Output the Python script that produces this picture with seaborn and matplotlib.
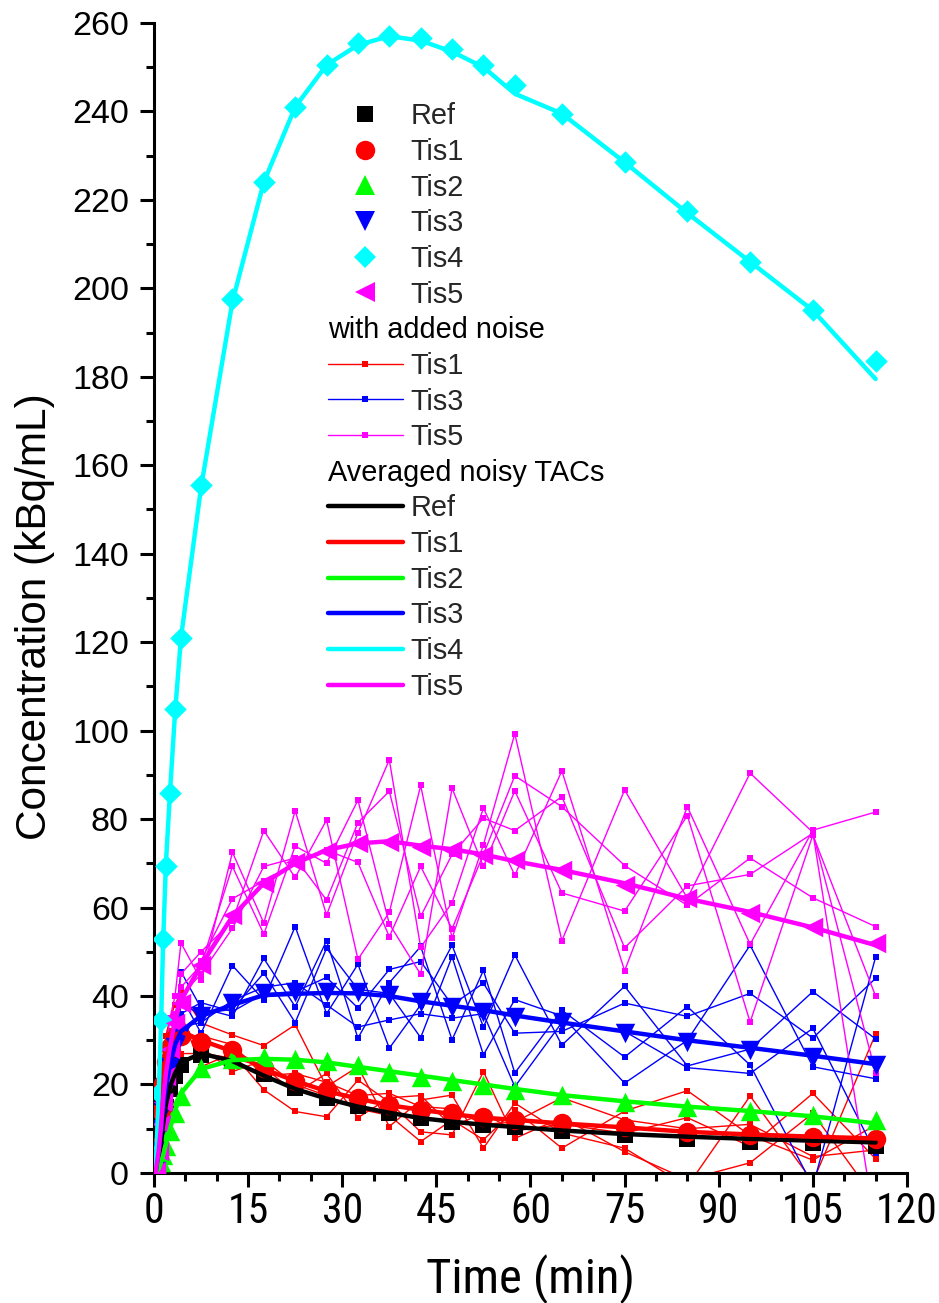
import matplotlib
matplotlib.use("Agg")
import numpy as np
import pandas as pd
import matplotlib.pyplot as plt
import seaborn as sns
from matplotlib.lines import Line2D
from matplotlib.text import Text
from matplotlib.legend_handler import HandlerBase
from matplotlib.ticker import MultipleLocator
from matplotlib import font_manager
from matplotlib.font_manager import FontProperties

# frame mid times (min)
times = [0.25, 0.75, 1.15, 1.45, 1.9, 2.55, 3.35, 4.3, 7.5, 12.5, 17.5, 22.5, 27.5,
         32.5, 37.5, 42.5, 47.5, 52.5, 57.5, 65, 75, 85, 95, 105, 115]

tissues = ["Ref", "Tis1", "Tis2", "Tis3", "Tis4", "Tis5"]
colors = ["#000000", "#FF0000", "#00FF00", "#0000FF", "#00FFFF", "#FF00FF"]

# noise-free TACs (markers)
ref_true = [0.3, 2, 6, 10, 15, 19, 22, 24.5, 26.7, 25.5, 22.3, 19.3, 16.9, 15.1, 13.6,
            12.5, 11.6, 10.9, 10.3, 9.4, 8.6, 7.7, 7.1, 6.7, 6.1]
tis1_true = [0.5, 6, 14, 20, 25, 28.5, 30.5, 31, 29.7, 27.8, 23.7, 20.7, 18.8, 17.0, 15.4,
             14.2, 13.5, 12.7, 12.0, 11.3, 10.5, 9.3, 8.6, 8.2, 7.7]
tis2_true = [0, 1, 2.5, 4, 6, 9.5, 13.5, 17.5, 23.7, 25.8, 26.3, 25.8, 25.2, 24.3, 22.8,
             21.8, 20.7, 19.9, 18.8, 17.6, 16.1, 14.9, 13.9, 13.1, 12.0]
tis3_true = [0.5, 5, 10, 14, 19, 24, 28.5, 31.5, 35.4, 38.4, 40.7, 41.0, 41.0, 41.0, 40.2,
             38.7, 37.6, 36.5, 35.3, 34.2, 31.6, 29.7, 27.8, 26.3, 24.4]
tis4_true = [4, 18, 34.5, 53, 69.5, 86, 105, 121, 155.5, 197.5, 224, 241, 250.5, 255.5, 257,
             256.5, 254, 250.5, 246, 239.5, 228.5, 217.5, 206, 195, 183.5]
tis5_true = [0.5, 5, 11, 16, 22, 28, 34, 38.5, 47, 58.3, 65.6, 70.4, 72.8, 74.5, 74.9,
             73.8, 73.0, 71.9, 70.8, 68.5, 65.1, 62.2, 58.8, 55.7, 52.0]

# averaged noisy TACs (thick lines)
ref_avg = [0, 3, 7, 11, 15.5, 19.5, 22.5, 25, 27, 25.3, 22, 19, 16.8, 15, 13.6, 12.4,
           11.6, 10.9, 10.4, 9.6, 8.8, 8.2, 7.7, 7.3, 6.9]
tis1_avg = [0, 7, 15, 21, 26, 29, 31, 32, 30, 27.5, 23.5, 20.8, 18.5, 16.8, 15.3, 14.3,
            13.3, 12.5, 12.0, 11.2, 10.3, 9.3, 8.7, 8.2, 7.8]
tis2_avg = [0, 1, 2.5, 4, 6.5, 10, 14, 18, 23.5, 25.5, 25.8, 25.6, 25.0, 24.0, 23.0, 22.0,
            21.0, 20.0, 19.0, 17.6, 16.2, 15.0, 14.0, 12.8, 11.2]
tis3_avg = [0, 5, 10, 14.5, 19.5, 24.5, 29, 32, 35.5, 38, 40.2, 40.5, 40.7, 40.6, 40.0,
            38.8, 37.8, 36.8, 35.6, 34.0, 32.0, 30.0, 28.3, 26.5, 24.6]
tis4_avg = [0, 18, 35, 52, 70, 86, 104, 121, 155, 197, 224, 241, 250.5, 255, 257, 256,
            253.5, 250, 244, 239.5, 228.5, 217, 206, 195, 179.5]
tis5_avg = [0, 5, 11, 16.5, 22.5, 28.5, 34.5, 39, 47, 58, 65.5, 70, 73, 74.5, 75, 74,
            73.2, 72, 70.5, 68.5, 65.5, 62, 59, 55.5, 51.5]

# noisy realizations (thin lines with small squares)
tis1_noisy = [
    [0.5, 8, 18, 26, 31, 35, 38, 41, 33.9, 31.2, 28.8, 33.5, 19.5, 24.0, 10.5, 16.5, 17.6, 5.6, 15.8, 9.0, 5.6, -3.0, 17.4, -2.0, 31.4],
    [0.0, 4, 12, 21, 27, 30, 29, 36, 24.0, 27.1, 18.8, 13.9, 12.7, 21.0, 16.0, 9.3, 8.6, 22.9, 7.8, 12.5, 4.8, -1.5, 2.3, 13.5, -6.0],
    [1.0, 7, 16, 19, 24, 26, 33, 33, 28.5, 22.9, 25.5, 20.0, 17.5, 14.5, 13.0, 7.1, 12.0, 7.5, 14.2, 5.6, 14.0, 18.6, 8.5, 2.9, 10.8],
    [0.0, 5, 14, 23, 28, 32, 30, 30, 31.0, 29.0, 22.0, 22.5, 20.5, 17.5, 18.0, 15.0, 14.5, 11.0, 11.5, 17.0, 12.0, 10.0, 11.0, 3.7, 5.2],
    [0.5, 9, 13, 18, 25, 29, 34, 27, 27.0, 26.0, 24.0, 18.0, 22.5, 12.5, 17.0, 17.5, 10.5, 13.5, 9.5, 11.0, 9.0, 12.5, 6.0, 18.0, 3.2],
]
tis3_noisy = [
    [0.5, 6, 12, 18, 24, 30, 34, 45.5, 37.3, 35.4, 48.5, 37.6, 52.5, 30.5, 43.0, 51.2, 30.1, 45.8, 22.6, 36.8, 26.2, 37.6, 24.4, -3.0, 48.8],
    [0.0, 4, 9, 15, 21, 26, 31, 40.0, 31.6, 46.9, 39.1, 55.7, 36.0, 47.2, 28.2, 38.0, 51.5, 33.0, 49.3, 28.9, 42.2, 24.2, 28.0, 41.0, 30.3],
    [1.0, 7, 11, 13, 20, 27, 29, 38.0, 36.0, 37.0, 45.2, 34.0, 50.8, 41.5, 40.6, 30.6, 48.9, 26.7, 39.2, 35.5, 20.3, 30.0, 51.5, 24.0, 21.3],
    [0.5, 3, 13, 17, 18, 22, 32, 36.0, 38.5, 36.5, 40.5, 41.0, 44.2, 37.3, 46.0, 47.8, 38.0, 42.9, 31.6, 32.0, 38.4, 35.4, 40.6, 30.5, 44.0],
    [0.0, 5, 10, 16, 22, 25, 27, 33.0, 34.0, 39.0, 42.0, 43.0, 38.0, 33.0, 34.6, 36.0, 35.0, 36.0, 19.5, 34.0, 32.0, 23.8, 22.5, 32.7, 4.5],
]
tis5_noisy = [
    [0.5, 7, 14, 20, 28, 35, 40, 52, 43.6, 72.5, 56.5, 81.9, 58.3, 76.9, 93.4, 51.0, 61.1, 82.5, 67.3, 90.9, 45.7, 82.8, 51.7, 77.5, 81.6],
    [0.0, 4, 10, 15, 21, 27, 33, 45, 50.0, 57.0, 77.4, 66.8, 79.8, 48.3, 58.9, 87.6, 53.1, 74.2, 99.3, 52.5, 86.6, 62.1, 90.4, 77.0, -12.5],
    [1.0, 6, 12, 17, 24, 30, 36, 42, 47.0, 69.3, 54.0, 73.9, 70.0, 84.3, 56.3, 44.9, 87.0, 69.3, 86.4, 63.3, 59.2, 80.8, 34.1, 76.4, 40.0],
    [0.5, 5, 11, 18, 20, 26, 31, 40, 45.0, 55.3, 69.3, 71.2, 61.7, 79.2, 86.3, 58.0, 72.0, 80.2, 77.4, 85.1, 50.9, 64.9, 67.5, 76.8, 22.7],
    [0.0, 3, 9, 14, 23, 29, 35, 38, 48.0, 62.0, 66.0, 70.0, 73.0, 70.2, 53.4, 69.3, 55.2, 72.0, 89.8, 82.8, 69.5, 60.5, 71.2, 62.2, 55.7],
]

x_ticks = [0, 15, 30, 45, 60, 75, 90, 105, 120]
y_ticks = list(range(0, 261, 20))

true_vals = [ref_true, tis1_true, tis2_true, tis3_true, tis4_true, tis5_true]
avg_vals = [ref_avg, tis1_avg, tis2_avg, tis3_avg, tis4_avg, tis5_avg]
noisy_sets = {"Tis1": tis1_noisy, "Tis3": tis3_noisy, "Tis5": tis5_noisy}

markers = {"Ref": "s", "Tis1": "o", "Tis2": "^", "Tis3": "v", "Tis4": "D", "Tis5": "<"}
msizes = {"Ref": 11, "Tis1": 14, "Tis2": 14, "Tis3": 14, "Tis4": 11.5, "Tis5": 14}
palette = dict(zip(tissues, colors))

true_df = pd.DataFrame({
    "time": times * len(tissues),
    "conc": np.concatenate(true_vals),
    "tissue": np.repeat(tissues, len(times)),
})
avg_df = pd.DataFrame({
    "time": times * len(tissues),
    "conc": np.concatenate(avg_vals),
    "tissue": np.repeat(tissues, len(times)),
})
rows = []
for name, reps in noisy_sets.items():
    for r, vals in enumerate(reps):
        for t, v in zip(times, vals):
            rows.append((t, v, name, r))
noisy_df = pd.DataFrame(rows, columns=["time", "conc", "tissue", "rep"])

sns.set_theme(style="ticks")
plt.rcParams["font.family"] = ["Liberation Sans", "DejaVu Sans"]

# condensed font for the x axis (Arial Narrow look), if one is installed
cond_file = None
for f in font_manager.fontManager.ttflist:
    fn = f.fname.lower()
    if ("narrow" in fn or "condensed" in fn) and "bold" not in fn \
            and "italic" not in fn and "oblique" not in fn:
        cond_file = f.fname
        if "liberation" in fn:
            break
if cond_file:
    xfont = FontProperties(fname=cond_file, size=30)
    xlab_font = FontProperties(fname=cond_file, size=35)
else:
    xfont = FontProperties(family="Liberation Sans", size=26)
    xlab_font = FontProperties(family="Liberation Sans", size=31)

fig = plt.figure(figsize=(9.39, 13.03), dpi=100)
ax = fig.add_axes([0.164, 0.0998, 0.8019, 0.8826])

# noisy realizations
sns.lineplot(data=noisy_df, x="time", y="conc", hue="tissue", units="rep",
             estimator=None, sort=False, palette=palette, linewidth=1.0,
             marker="s", markersize=5, markeredgewidth=0, legend=False, ax=ax,
             zorder=2)

# noise-free markers
for name in tissues:
    sub = true_df[true_df["tissue"] == name]
    sns.scatterplot(data=sub, x="time", y="conc", color=palette[name],
                    marker=markers[name], s=msizes[name] ** 2, linewidth=0,
                    legend=False, ax=ax, zorder=3)

# averaged noisy TACs
sns.lineplot(data=avg_df, x="time", y="conc", hue="tissue", estimator=None,
             sort=False, palette=palette, linewidth=3.2, legend=False, ax=ax,
             zorder=4)

ax.set_xlim(0, 120)
ax.set_ylim(0, 260)
ax.set_xticks(x_ticks)
ax.set_xticklabels([str(v) for v in x_ticks], fontproperties=xfont)
ax.set_yticks(y_ticks)
ax.set_yticklabels([str(v) for v in y_ticks], fontsize=24.5)
ax.xaxis.set_minor_locator(MultipleLocator(5))
ax.yaxis.set_minor_locator(MultipleLocator(10))
ax.tick_params(which="major", direction="out", length=10, width=2.2, color="black",
               labelcolor="black")
ax.tick_params(which="minor", direction="out", length=6, width=2.2, color="black")
ax.tick_params(axis="x", which="major", pad=3)
ax.tick_params(axis="y", which="major", pad=8)
for side in ["top", "right"]:
    ax.spines[side].set_visible(False)
for side in ["left", "bottom"]:
    ax.spines[side].set_linewidth(2.2)
    ax.spines[side].set_color("black")

ax.set_xlabel("Time (min)", fontproperties=xlab_font, color="black")
ax.set_ylabel("Concentration (kBq/mL)", fontsize=30.5, color="black")
ax.xaxis.set_label_coords(0.5, -0.071)
ax.yaxis.set_label_coords(-0.132, 0.4835)


class Header:
    def __init__(self, text):
        self.text = text


class HeaderHandler(HandlerBase):
    def create_artists(self, legend, orig_handle, xdescent, ydescent, width,
                       height, fontsize, trans):
        t = Text(-xdescent, -ydescent, orig_handle.text, fontsize=fontsize,
                 ha="left", va="baseline", color="black", transform=trans)
        return [t]


handles, labels = [], []
for name in tissues:
    handles.append(Line2D([], [], linestyle="none", marker=markers[name],
                          color=palette[name], markersize=msizes[name],
                          markeredgewidth=0))
    labels.append(name)
handles.append(Header("with added noise"))
labels.append("")
for name in noisy_sets:
    handles.append(Line2D([], [], color=palette[name], linewidth=1.0, marker="s",
                          markersize=5, markeredgewidth=0))
    labels.append(name)
handles.append(Header("Averaged noisy TACs"))
labels.append("")
for name in tissues:
    handles.append(Line2D([], [], color=palette[name], linewidth=3.2))
    labels.append(name)

leg = ax.legend(handles, labels, handler_map={Header: HeaderHandler()},
                loc="upper left", bbox_to_anchor=(0.231, 0.931), frameon=False,
                fontsize=20.8, handlelength=2.6, handletextpad=0.25,
                labelspacing=0.265, borderpad=0, borderaxespad=0)

fig.savefig("out.png", dpi=100)
